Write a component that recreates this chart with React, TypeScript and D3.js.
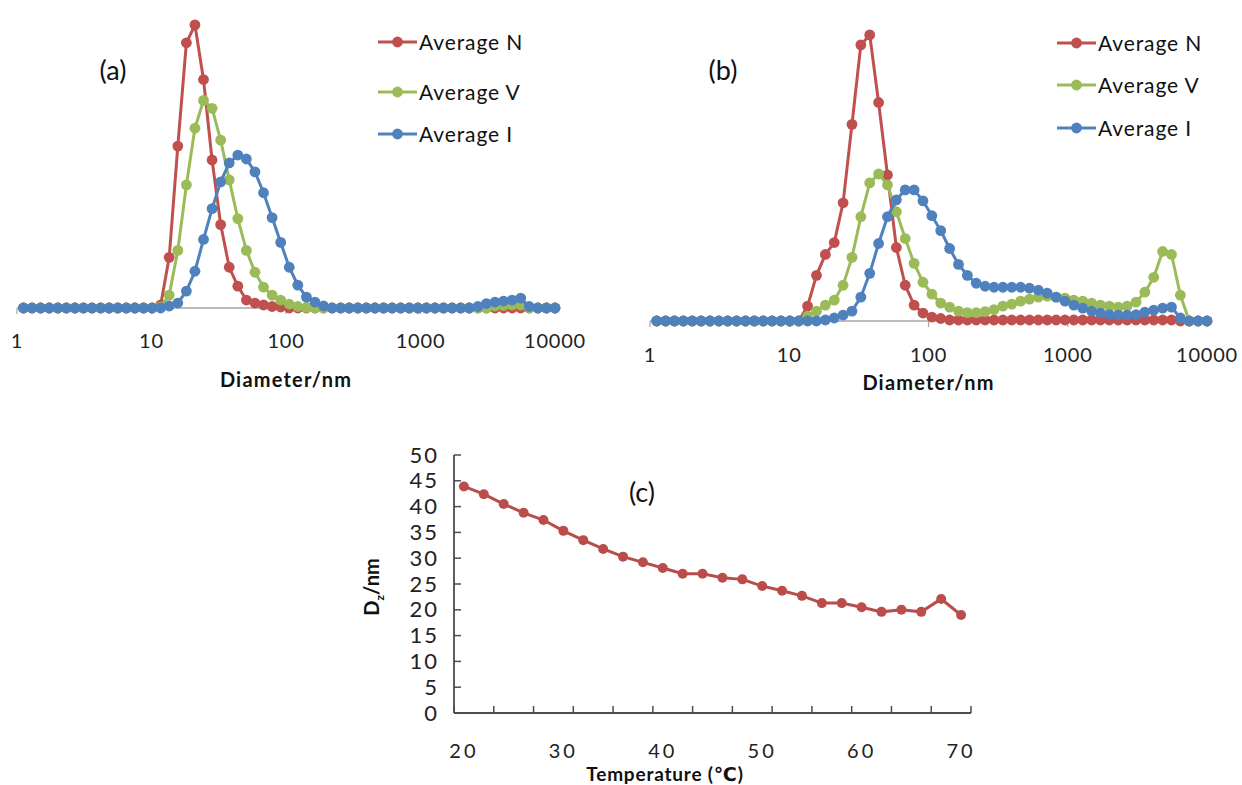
import React from 'react';
import * as d3 from 'd3';

// Malvern size bins (nm)
const diameters = [1.117, 1.294, 1.499, 1.736, 2.01, 2.328, 2.696, 3.122, 3.615, 4.187, 4.849, 5.615, 6.503, 7.531, 8.721, 10.1, 11.7, 13.54, 15.69, 18.17, 21.04, 24.36, 28.21, 32.67, 37.84, 43.82, 50.75, 58.77, 68.06, 78.82, 91.28, 105.7, 122.4, 141.8, 164.2, 190.1, 220.2, 255, 295.3, 342, 396.1, 458.7, 531.2, 615.1, 712.4, 825, 955.4, 1106, 1281, 1484, 1718, 1990, 2305, 2669, 3091, 3580, 4145, 4801, 5560, 6439, 7456, 8635, 10000];

// panel (a)
const aNumber = [0, 0, 0, 0, 0, 0, 0, 0, 0, 0, 0, 0, 0, 0, 0, 0, 0.3, 5.1, 16.3, 26.7, 28.5, 23.0, 14.9, 8.4, 4.1, 2.2, 0.8, 0.5, 0.3, 0.15, 0.1, 0, 0, 0, 0, 0, 0, 0, 0, 0, 0, 0, 0, 0, 0, 0, 0, 0, 0, 0, 0, 0, 0, 0, 0, 0, 0, 0, 0, 0, 0, 0, 0];
const aVolume = [0, 0, 0, 0, 0, 0, 0, 0, 0, 0, 0, 0, 0, 0, 0, 0, 0.1, 1.3, 5.8, 12.4, 18.1, 20.9, 20.1, 16.9, 12.9, 9.0, 5.8, 3.6, 2.1, 1.3, 0.8, 0.4, 0.15, 0.05, 0, 0, 0, 0, 0, 0, 0, 0, 0, 0, 0, 0, 0, 0, 0, 0, 0, 0, 0, 0, 0, 0.2, 0.25, 0.3, 0.3, 0, 0, 0, 0];
const aIntensity = [0, 0, 0, 0, 0, 0, 0, 0, 0, 0, 0, 0, 0, 0, 0, 0, 0, 0.2, 0.5, 1.7, 3.7, 6.9, 10.0, 12.7, 14.6, 15.4, 15.0, 13.7, 11.6, 9.1, 6.6, 4.1, 2.3, 1.1, 0.6, 0.2, 0, 0, 0, 0, 0, 0, 0, 0, 0, 0, 0, 0, 0, 0, 0, 0, 0, 0.15, 0.45, 0.6, 0.7, 0.8, 1.0, 0.15, 0, 0, 0];

// panel (b)
const bNumber = [0, 0, 0, 0, 0, 0, 0, 0, 0, 0, 0, 0, 0, 0, 0, 0, 0, 1.5, 4.6, 6.7, 7.9, 11.9, 19.8, 27.8, 28.8, 22.0, 14.7, 7.4, 3.6, 1.6, 0.8, 0.4, 0.25, 0.1, 0.1, 0.1, 0.1, 0.1, 0.1, 0.1, 0.1, 0.1, 0.1, 0.1, 0.1, 0.1, 0.1, 0.1, 0.1, 0.1, 0.1, 0.1, 0.1, 0.1, 0.1, 0.1, 0.1, 0.1, 0.1, 0, 0, 0, 0];
const bVolume = [0, 0, 0, 0, 0, 0, 0, 0, 0, 0, 0, 0, 0, 0, 0, 0, 0, 0.5, 1.0, 1.6, 2.1, 3.6, 6.4, 10.5, 13.9, 14.8, 13.7, 11.0, 8.3, 5.8, 3.9, 2.7, 1.8, 1.4, 1.0, 0.85, 0.85, 0.95, 1.15, 1.5, 1.7, 2.0, 2.2, 2.4, 2.5, 2.4, 2.3, 2.1, 2.0, 1.8, 1.6, 1.5, 1.4, 1.5, 1.9, 2.9, 4.4, 7.0, 6.7, 2.6, 0, 0, 0];
const bIntensity = [0, 0, 0, 0, 0, 0, 0, 0, 0, 0, 0, 0, 0, 0, 0, 0, 0, 0, 0, 0.1, 0.3, 0.6, 1.0, 2.4, 4.8, 7.8, 10.5, 12.2, 13.2, 13.2, 12.1, 10.6, 9.1, 7.3, 5.7, 4.6, 3.8, 3.5, 3.4, 3.4, 3.4, 3.4, 3.3, 3.1, 2.8, 2.4, 2.0, 1.6, 1.3, 1.0, 0.8, 0.65, 0.6, 0.6, 0.65, 0.9, 1.1, 1.3, 1.4, 0.3, 0, 0, 0];

const decadeTicks = [1, 10, 100, 1000, 10000];
const seriesNames = ['Average N', 'Average V', 'Average I'];
const seriesColors = ['#C0504D', '#9BBB59', '#4F81BD'];

// panel (c)
const temperatures = [20, 22, 24, 26, 28, 30, 32, 34, 36, 38, 40, 42, 44, 46, 48, 50, 52, 54, 56, 58, 60, 62, 64, 66, 68, 70];
const dz = [43.9, 42.4, 40.5, 38.8, 37.4, 35.3, 33.5, 31.8, 30.3, 29.2, 28.1, 27.0, 27.0, 26.2, 25.9, 24.6, 23.7, 22.7, 21.3, 21.3, 20.5, 19.6, 20.0, 19.6, 22.1, 19.0];
const dzTicks = [0, 5, 10, 15, 20, 25, 30, 35, 40, 45, 50];
const tempLabels = [20, 30, 40, 50, 60, 70];

const FONT = 'Lato, "Open Sans", "DejaVu Sans", sans-serif';
const MR = 5.4;

type PanelProps = {
  x0: number; x1: number; yBase: number; yTop: number;
  series: number[][]; label: string; labelX: number;
  legendX: number; legendYs: number[]; tickBaseline: number; titleBaseline: number;
};

function DistPanel(p: PanelProps) {
  const x = d3.scaleLog().domain([1, 10000]).range([p.x0, p.x1]);
  const y = d3.scaleLinear().domain([0, 30]).range([p.yBase, p.yTop]);
  const line = d3.line<[number, number]>().x(d => x(d[0])).y(d => y(d[1]));
  return (
    <g>
      <line x1={p.x0} x2={p.x1} y1={p.yBase} y2={p.yBase} stroke="#a6a6a6" strokeWidth={1.5} />
      {decadeTicks.map(t => (
        <line key={t} x1={x(t)} x2={x(t)} y1={p.yBase} y2={p.yBase + 6} stroke="#a6a6a6" strokeWidth={1.2} />
      ))}
      {decadeTicks.map(t => (
        <text key={'l' + t} x={x(t)} y={p.tickBaseline} textAnchor="middle" fontSize={20} fontFamily={FONT} fill="#222" letterSpacing={0.8}>{t}</text>
      ))}
      <text x={(p.x0 + p.x1) / 2} y={p.titleBaseline} textAnchor="middle" fontSize={20} fontWeight="bold" fontFamily={FONT} fill="#111" letterSpacing={1.2}>Diameter/nm</text>
      {p.series.map((vals, si) => {
        const pts = vals.map((v, i) => [diameters[i], v] as [number, number]);
        return (
          <g key={si}>
            <path d={line(pts) || ''} fill="none" stroke={seriesColors[si]} strokeWidth={3} />
            {pts.map((d, i) => (
              <circle key={i} cx={x(d[0])} cy={y(d[1])} r={MR} fill={seriesColors[si]} />
            ))}
          </g>
        );
      })}
      <text x={p.labelX} y={80} textAnchor="middle" fontSize={27} fontFamily={FONT} fill="#111">{p.label}</text>
      {seriesNames.map((n, i) => (
        <g key={n}>
          <line x1={p.legendX} x2={p.legendX + 39} y1={p.legendYs[i]} y2={p.legendYs[i]} stroke={seriesColors[i]} strokeWidth={3} />
          <circle cx={p.legendX + 19.5} cy={p.legendYs[i]} r={MR} fill={seriesColors[i]} />
          <text x={p.legendX + 41} y={p.legendYs[i] + 7.5} fontSize={21} fontFamily={FONT} fill="#111" letterSpacing={0.9}>{n}</text>
        </g>
      ))}
    </g>
  );
}

function TempPanel() {
  const x = d3.scaleBand<string>().domain(temperatures.map(String)).range([454, 971]).paddingInner(0).paddingOuter(0);
  const y = d3.scaleLinear().domain([0, 50]).range([713, 455]);
  const bw = x.bandwidth();
  const cx = (t: number) => (x(String(t)) as number) + bw / 2;
  const line = d3.line<number>().x((_, i) => cx(temperatures[i])).y(d => y(d));
  const tickXs = temperatures.filter((_, i) => i % 2 === 0).map(t => x(String(t)) as number).concat([971]);
  const axisColor = '#4d4d4d';
  return (
    <g>
      <line x1={454} x2={454} y1={455} y2={713} stroke={axisColor} strokeWidth={1.8} />
      <line x1={454} x2={971} y1={713} y2={713} stroke={axisColor} strokeWidth={1.8} />
      {dzTicks.map(t => (
        <g key={t}>
          <line x1={454} x2={461} y1={y(t)} y2={y(t)} stroke={axisColor} strokeWidth={1.5} />
          <text x={439} y={y(t) + 7.5} textAnchor="end" fontSize={22} fontFamily={FONT} fill="#222" letterSpacing={2}>{t}</text>
        </g>
      ))}
      {tickXs.map((tx, i) => (
        <line key={i} x1={tx} x2={tx} y1={713} y2={706} stroke={axisColor} strokeWidth={1.5} />
      ))}
      {tempLabels.map(t => (
        <text key={t} x={cx(t)} y={758} textAnchor="middle" fontSize={20} fontFamily={FONT} fill="#222" letterSpacing={3}>{t}</text>
      ))}
      <path d={line(dz) || ''} fill="none" stroke="#BA4D4B" strokeWidth={3} />
      {dz.map((v, i) => (
        <circle key={i} cx={cx(temperatures[i])} cy={y(v)} r={5} fill="#BA4D4B" />
      ))}
      <text x={642} y={502} textAnchor="middle" fontSize={27} fontFamily={FONT} fill="#111">(c)</text>
      <text x={665} y={781} textAnchor="middle" fontSize={19} fontWeight="bold" fontFamily={FONT} fill="#111" letterSpacing={0.8}>Temperature (℃)</text>
      <text transform="translate(379,587) rotate(-90)" textAnchor="middle" fontSize={20} fontWeight="bold" fontFamily={FONT} fill="#111">
        D<tspan fontSize={12} dy={5}>z</tspan><tspan dy={-5}>/nm</tspan>
      </text>
    </g>
  );
}

export default function App() {
  return (
    <svg width={1242} height={785} style={{ position: 'absolute', left: 0, top: 0, background: '#fff' }}>
      <rect x={0} y={0} width={1242} height={785} fill="#fff" />
      <DistPanel x0={17} x1={555} yBase={308} yTop={10} series={[aNumber, aVolume, aIntensity]} label="(a)" labelX={113}
        legendX={378} legendYs={[42, 92, 134]} tickBaseline={348} titleBaseline={387} />
      <DistPanel x0={650} x1={1207} yBase={321} yTop={23} series={[bNumber, bVolume, bIntensity]} label="(b)" labelX={723}
        legendX={1057} legendYs={[43, 85, 128]} tickBaseline={362} titleBaseline={390} />
      <TempPanel />
    </svg>
  );
}
